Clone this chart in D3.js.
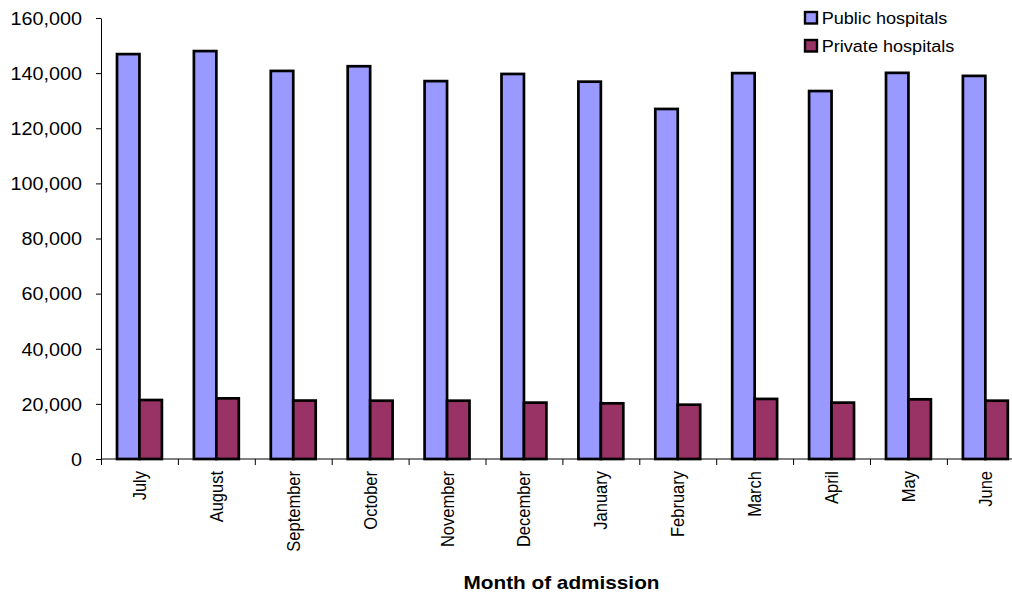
<!DOCTYPE html>
<html>
<head>
<meta charset="utf-8">
<script src="https://cdn.jsdelivr.net/npm/d3@7"></script>
<style>
  body { margin: 0; background: #fff; }
  text { font-family: Arial, "Liberation Sans", sans-serif; fill: #000; }
</style>
</head>
<body>
<div id="chart"></div>
<script>
// data
var months = ["July", "August", "September", "October", "November", "December",
              "January", "February", "March", "April", "May", "June"];
var series = ["Public hospitals", "Private hospitals"];
var publicVals = [146900, 148000, 140800, 142500, 137100, 139700,
                  136900, 127000, 140000, 133500, 140100, 139000];
var privateVals = [21400, 22000, 21200, 21150, 21150, 20450,
                   20200, 19700, 21800, 20450, 21650, 21150];
var yTicks = [0, 20000, 40000, 60000, 80000, 100000, 120000, 140000, 160000];
var colors = ["#9999ff", "#993366"];

var width = 1012, height = 595;
var mLeft = 101, mTop = 18, mBottom = 459;
var band = 76.9;

var svg = d3.select("#chart").append("svg")
    .attr("width", width)
    .attr("height", height);

var y = d3.scaleLinear().domain([0, 160000]).range([mBottom, mTop]);
var x0 = d3.scaleBand().domain(months).range([mLeft, mLeft + band * months.length]);
var x1 = d3.scaleBand().domain(series)
    .range([x0.bandwidth() * 0.208, x0.bandwidth() * 0.792]);

var rows = months.map(function (m, i) {
    return { month: m, vals: [publicVals[i], privateVals[i]] };
});

// bars
var groups = svg.selectAll(".grp")
    .data(rows)
    .enter().append("g")
    .attr("class", "grp")
    .attr("transform", function (d) { return "translate(" + x0(d.month) + ",0)"; });

groups.selectAll("rect")
    .data(function (d) { return d.vals.map(function (v, j) { return { s: series[j], v: v, j: j }; }); })
    .enter().append("rect")
    .attr("x", function (d) { return x1(d.s); })
    .attr("width", x1.bandwidth())
    .attr("y", function (d) { return y(d.v); })
    .attr("height", function (d) { return mBottom - y(d.v); })
    .style("fill", function (d) { return colors[d.j]; })
    .style("stroke", "#000")
    .style("stroke-width", 2.7);

// y axis
var yAxis = svg.append("g")
    .attr("transform", "translate(" + mLeft + ",0)")
    .call(d3.axisLeft(y).tickValues(yTicks).tickSize(5).tickSizeOuter(0)
        .tickFormat(d3.format(",")));
yAxis.select(".domain").attr("stroke", "#000");
yAxis.selectAll(".tick line").attr("stroke", "#000");
yAxis.selectAll("text")
    .attr("x", 0).attr("dy", null).attr("y", 0)
    .attr("fill", "#000")
    .style("font-size", "17.5px")
    .attr("text-anchor", "end")
    .attr("transform", "translate(-19,6.3) scale(1.13,1)");

// x axis
var xAxis = svg.append("g")
    .attr("transform", "translate(0," + mBottom + ")");
xAxis.append("line")
    .attr("x1", mLeft).attr("x2", width)
    .attr("stroke", "#000");
xAxis.selectAll(".xt")
    .data(months)
    .enter().append("line")
    .attr("class", "xt")
    .attr("x1", function (d) { return x0(d) + 0.5; })
    .attr("x2", function (d) { return x0(d) + 0.5; })
    .attr("y1", 0).attr("y2", 6)
    .attr("stroke", "#000");

svg.selectAll(".mlabel")
    .data(months)
    .enter().append("text")
    .attr("class", "mlabel")
    .attr("text-anchor", "end")
    .attr("dy", "0.35em")
    .style("font-size", "16.5px")
    .attr("transform", function (d) {
        return "translate(" + (x0(d) + x0.bandwidth() / 2) + ",471) scale(1.13,1) rotate(-90)";
    })
    .text(function (d) { return d; });

// axis title
svg.append("text")
    .attr("text-anchor", "middle")
    .style("font-size", "17.6px")
    .style("font-weight", "bold")
    .attr("transform", "translate(561.5,589) scale(1.18,1)")
    .text("Month of admission");

// legend
var legend = svg.selectAll(".leg")
    .data(series)
    .enter().append("g")
    .attr("class", "leg")
    .attr("transform", function (d, i) { return "translate(805," + (12 + i * 28) + ")"; });

legend.append("rect")
    .attr("width", 12).attr("height", 11.5)
    .style("fill", function (d, i) { return colors[i]; })
    .style("stroke", "#000")
    .style("stroke-width", 2.4);

legend.append("text")
    .attr("transform", "translate(16.7,11.5) scale(1.13,1)")
    .style("font-size", "16px")
    .text(function (d) { return d; });
</script>
</body>
</html>
